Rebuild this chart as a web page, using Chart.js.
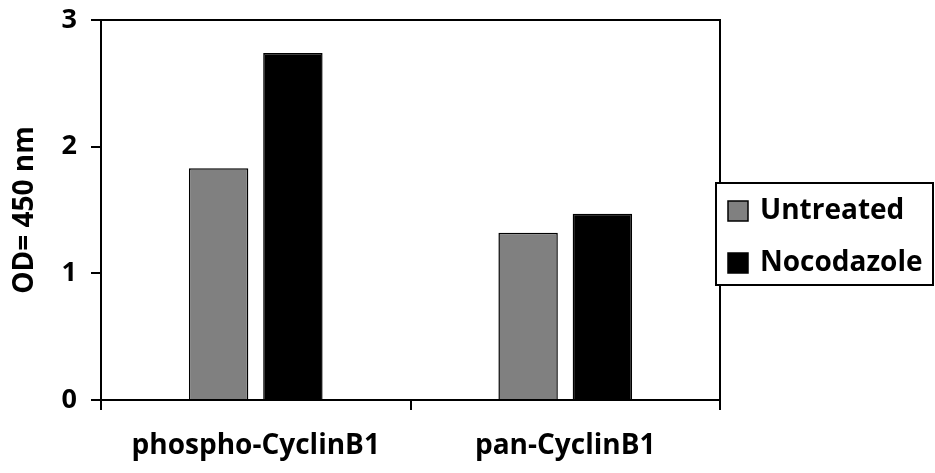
<!DOCTYPE html>
<html>
<head>
<meta charset="utf-8">
<script src="https://cdn.jsdelivr.net/npm/chart.js@4"></script>
<style>
    body { margin: 0; background: #fff; }
    #wrap { width: 935px; height: 473px; }
</style>
</head>
<body>
<div id="wrap"><canvas id="odChart" width="935" height="473"></canvas></div>
<script>
// data
const categories = ['phospho-CyclinB1', 'pan-CyclinB1'];
const seriesNames = ['Untreated', 'Nocodazole'];
const untreated = [1.83, 1.32];
const nocodazole = [2.74, 1.47];
const yTicks = [0, 1, 2, 3];

const FONT = '"Open Sans", sans-serif';

// box round the plot area plus the legend box on the right
const framePlugin = {
    id: 'frame',
    afterDraw(chart) {
        const ctx = chart.ctx;
        const a = chart.chartArea;
        ctx.save();
        ctx.strokeStyle = '#000';
        ctx.lineWidth = 2;
        ctx.strokeRect(a.left, a.top, a.right - a.left, a.bottom - a.top);

        // legend
        const lx = 716, ly = 183, lw = 217, lh = 102;
        ctx.fillStyle = '#fff';
        ctx.fillRect(lx, ly, lw, lh);
        ctx.lineWidth = 2;
        ctx.strokeRect(lx, ly, lw, lh);
        ctx.font = 'bold 28px ' + FONT;
        ctx.textBaseline = 'middle';
        chart.data.datasets.forEach((ds, i) => {
            const cy = ly + 28 + i * 52;
            ctx.fillStyle = ds.backgroundColor;
            ctx.fillRect(lx + 12, cy - 10, 20, 20);
            ctx.lineWidth = 1.5;
            ctx.strokeRect(lx + 12, cy - 10, 20, 20);
            ctx.fillStyle = '#000';
            ctx.fillText(ds.label, lx + 44, cy);
        });
        ctx.restore();
    }
};

document.addEventListener('DOMContentLoaded', function () {
    const ctx = document.getElementById('odChart').getContext('2d');
    new Chart(ctx, {
        type: 'bar',
        data: {
            labels: categories,
            datasets: [{
                label: seriesNames[0],
                data: untreated,
                backgroundColor: '#808080',
                borderColor: '#000',
                borderWidth: 1.5
            },
            {
                label: seriesNames[1],
                data: nocodazole,
                backgroundColor: '#000',
                borderColor: '#000',
                borderWidth: 1.5
            }]
        },
        options: {
            responsive: false,
            animation: false,
            categoryPercentage: 0.48,
            barPercentage: 0.8,
            layout: { padding: { left: 0, top: 20, right: 215, bottom: 0 } },
            plugins: {
                legend: { display: false },
                tooltip: { enabled: false }
            },
            scales: {
                x: {
                    afterFit: function (scale) {
                        scale.height = 73;
                        scale.paddingLeft = 0;
                        scale.paddingRight = 0;
                    },
                    grid: { drawOnChartArea: false, color: '#000', lineWidth: 2, tickLength: 10 },
                    border: { color: '#000', width: 2 },
                    ticks: { color: '#000', padding: 19, font: { family: FONT, size: 28, weight: 'bold' } }
                },
                y: {
                    min: 0,
                    max: 3,
                    afterFit: function (scale) {
                        scale.width = 101;
                        scale.paddingTop = 0;
                        scale.paddingBottom = 0;
                    },
                    afterBuildTicks: function (scale) {
                        scale.ticks = yTicks.map(v => ({ value: v }));
                    },
                    grid: { drawOnChartArea: false, color: '#000', lineWidth: 2, tickLength: 10 },
                    border: { color: '#000', width: 2 },
                    ticks: { color: '#000', padding: 14, font: { family: FONT, size: 27, weight: 'bold' } },
                    title: {
                        display: true,
                        text: 'OD= 450 nm',
                        color: '#000',
                        padding: { top: 8, bottom: 0 },
                        font: { family: FONT, size: 28, weight: 'bold' }
                    }
                }
            }
        },
        plugins: [framePlugin]
    });
});
</script>
</body>
</html>
